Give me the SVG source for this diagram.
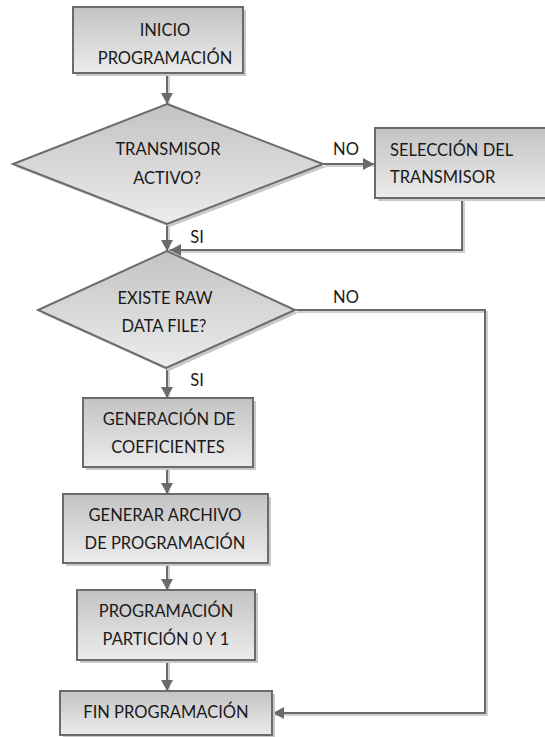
<svg xmlns="http://www.w3.org/2000/svg" width="545" height="737" viewBox="0 0 545 737">
<style>
.sh{fill:#c9c9c9;stroke:none}
.nd{fill:url(#g);stroke:#6b6b6b;stroke-width:2}
.t{font-family:Lato,"Liberation Sans",sans-serif;font-size:16.5px;fill:#1a1a1a;text-anchor:middle}
.tl{text-anchor:start}
.c{fill:none;stroke:#6b6b6b;stroke-width:2}
.cs{fill:none;stroke:#cfcfcf;stroke-width:2}
</style>
<defs>
<linearGradient id="g" x1="0" y1="0" x2="0" y2="1">
<stop offset="0" stop-color="#c3c3c3"/>
<stop offset="1" stop-color="#ececec"/>
</linearGradient>
<marker id="a" markerUnits="userSpaceOnUse" markerWidth="12" markerHeight="12" refX="11" refY="6" orient="auto">
<path d="M0,0 L11,6 L0,12 z" fill="#6b6b6b"/>
</marker>
</defs>
<g id="connectors">
<path class="cs" d="M169,75 V104 M325,166 H375 M169,226 V251 M464,200 V252 H172 M297,312 H487 V715 H275 M169,370 V398 M169,469 V494 M169,565 V590 M169,662 V691"/>
<path class="c" d="M167,73 V104" marker-end="url(#a)"/>
<path class="c" d="M323,164 H374" marker-end="url(#a)"/>
<path class="c" d="M167,224 V251" marker-end="url(#a)"/>
<path class="c" d="M462,198 V250 H170" marker-end="url(#a)"/>
<path class="c" d="M295,310 H485 V713 H273" marker-end="url(#a)"/>
<path class="c" d="M167,368 V398" marker-end="url(#a)"/>
<path class="c" d="M167,467 V494" marker-end="url(#a)"/>
<path class="c" d="M167,563 V590" marker-end="url(#a)"/>
<path class="c" d="M167,660 V691" marker-end="url(#a)"/>
<text class="t" x="346" y="155">NO</text>
<text class="t" x="197" y="243">SI</text>
<text class="t" x="346" y="303">NO</text>
<text class="t" x="197" y="386">SI</text>
</g>
<g id="inicio">
<rect class="sh" x="76" y="10" width="170" height="66"/>
<rect class="nd" x="73" y="7" width="170" height="66"/>
<text class="t" x="165" y="36">INICIO</text>
<text class="t" x="165" y="64">PROGRAMACIÓN</text>
</g>
<g id="transmisor-activo">
<polygon class="sh" points="170,107 326,167 170,227 16,167"/>
<polygon class="nd" points="167,104 323,164 167,224 13,164"/>
<text class="t" x="168" y="155">TRANSMISOR</text>
<text class="t" x="167" y="184">ACTIVO?</text>
</g>
<g id="seleccion">
<rect class="sh" x="378" y="131" width="175" height="70"/>
<rect class="nd" x="375" y="128" width="175" height="70"/>
<text class="t tl" x="390" y="156">SELECCIÓN DEL</text>
<text class="t tl" x="390" y="183">TRANSMISOR</text>
</g>
<g id="existe-raw">
<polygon class="sh" points="170,254 298,313 169,371 41,313"/>
<polygon class="nd" points="167,251 295,310 166,368 38,310"/>
<text class="t" x="165" y="304">EXISTE RAW</text>
<text class="t" x="164" y="332">DATA FILE?</text>
</g>
<g id="generacion">
<rect class="sh" x="86" y="401" width="170" height="69"/>
<rect class="nd" x="83" y="398" width="170" height="69"/>
<text class="t" x="169" y="425">GENERACIÓN DE</text>
<text class="t" x="168" y="453">COEFICIENTES</text>
</g>
<g id="generar-archivo">
<rect class="sh" x="66" y="497" width="205" height="69"/>
<rect class="nd" x="63" y="494" width="205" height="69"/>
<text class="t" x="165" y="521">GENERAR ARCHIVO</text>
<text class="t" x="165" y="549">DE PROGRAMACIÓN</text>
</g>
<g id="programacion">
<rect class="sh" x="80" y="593" width="178" height="70"/>
<rect class="nd" x="77" y="590" width="178" height="70"/>
<text class="t" x="166" y="617">PROGRAMACIÓN</text>
<text class="t" x="166" y="645">PARTICIÓN 0 Y 1</text>
</g>
<g id="fin">
<rect class="sh" x="63" y="694" width="212" height="44"/>
<rect class="nd" x="60" y="691" width="212" height="44"/>
<text class="t" x="166" y="718">FIN PROGRAMACIÓN</text>
</g>
</svg>
